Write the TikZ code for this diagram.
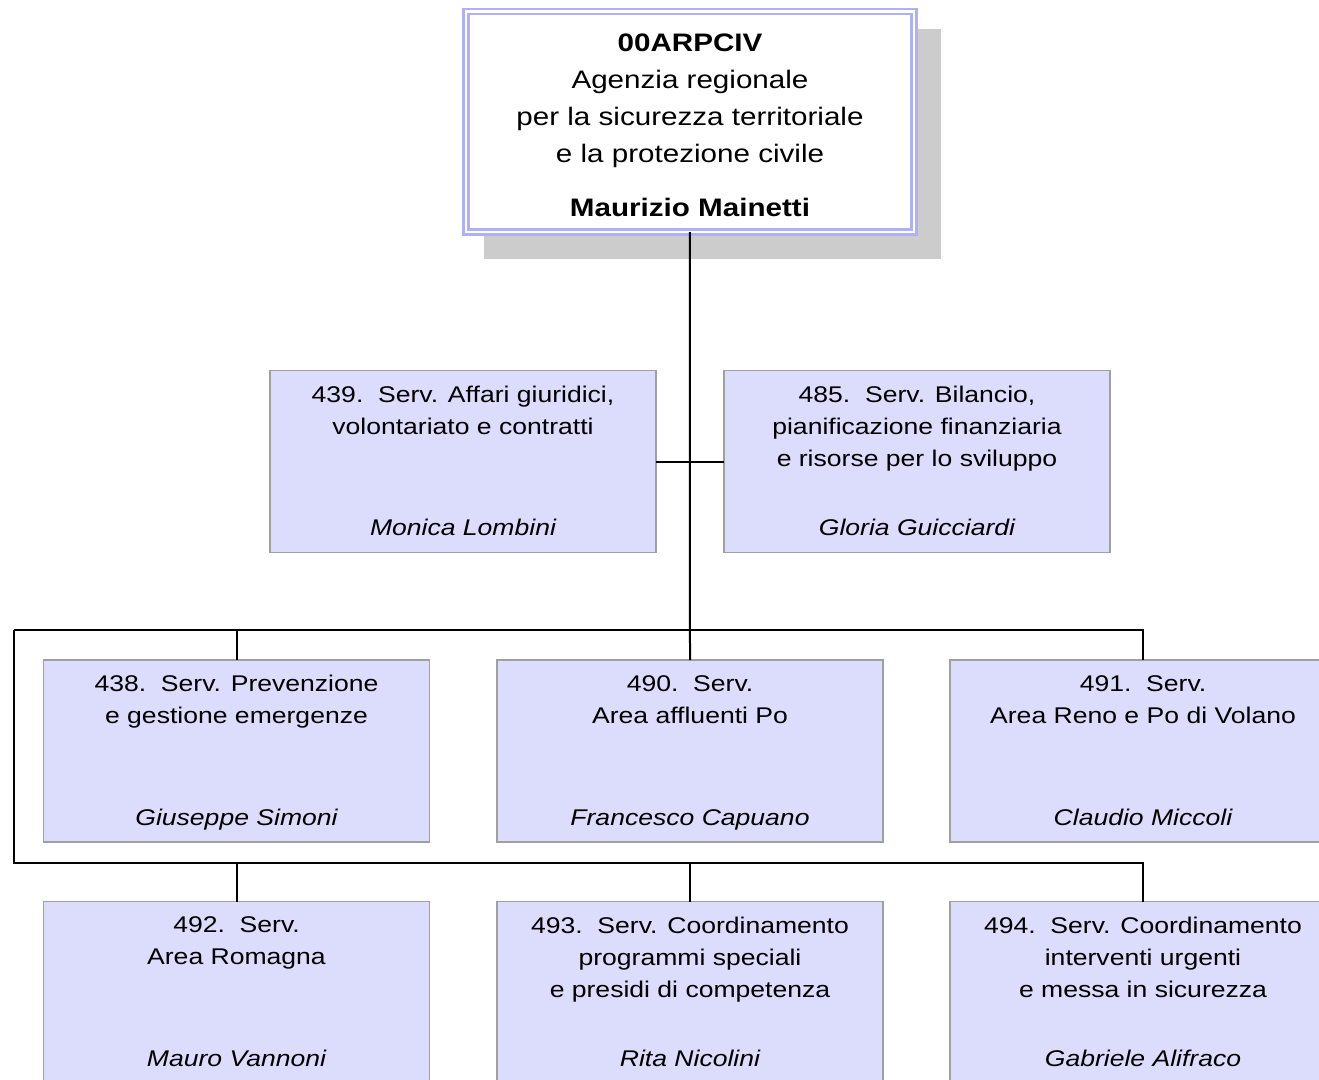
\documentclass[tikz,border=0pt]{standalone}
\usepackage{fontspec}
\setmainfont[FakeStretch=1.17]{Liberation Sans}
\usetikzlibrary{calc}
\definecolor{svcfill}{RGB}{220,220,252}
\definecolor{svcline}{RGB}{160,160,160}
\definecolor{topline}{RGB}{176,176,248}
\definecolor{shadowgray}{RGB}{204,204,204}
\tikzset{
  svcbox/.style={draw=svcline, fill=svcfill, line width=1.5pt, minimum width=386pt, minimum height=182pt, inner sep=0pt, outer sep=0pt},
  topbox/.style={draw=topline, double=white, line width=2.5pt, double distance=2.5pt, fill=white, minimum width=448pt, minimum height=220.3pt, inner sep=0pt, outer sep=0pt},
  svctitle/.style={anchor=north, align=center, inner sep=0pt, font=\fontsize{22.7}{32}\selectfont},
  svcname/.style={anchor=base, inner sep=0pt, font=\fontsize{22.7}{32}\selectfont\itshape},
  toptitle/.style={anchor=north, align=center, inner sep=0pt, font=\fontsize{25.3}{37}\selectfont},
  topname/.style={anchor=base, inner sep=0pt, font=\fontsize{25.3}{37}\selectfont\bfseries},
  conn/.style={draw=black, line width=2pt}
}
\begin{document}
\begin{tikzpicture}[x=1pt,y=-1pt]
\useasboundingbox (0,0) rectangle (1319,1079);
% top box with shadow
\fill[shadowgray] (484,29) rectangle (941,259.3);
\node[topbox] (top) at (689.75,121.85) {};
\node[toptitle] (toptxt) at (690,33.5) {{\bfseries 00ARPCIV}\\Agenzia regionale\\per la sicurezza territoriale\\e la protezione civile};
\node[topname] (topnm) at (690,216.5) {Maurizio Mainetti};

% service boxes
\node[svcbox] (s439) at (463,461.5) {};
\node[svcbox] (s485) at (917,461.5) {};
\node[svcbox] (c438) at (236.5,751) {};
\node[svcbox] (c490) at (690,751) {};
\node[svcbox] (c491) at (1143,751) {};
\node[svcbox] (c492) at (236.5,992.5) {};
\node[svcbox] (c493) at (690,992.5) {};
\node[svcbox] (c494) at (1143,992.5) {};

% connectors
\coordinate (busA) at (690,630);
\coordinate (busL) at (14,630);
\coordinate (busL2) at (14,862.5);
\draw[conn] (top.south) -- (c490.north);
\draw[conn] (s439.east) -- (s485.west);
\draw[conn] (busL) -- (c491.north |- busA) -- (c491.north);
\draw[conn] (c438.north |- busA) -- (c438.north);
\draw[conn] (busL) -- (busL2) -- (c494.north |- busL2) -- (c494.north);
\draw[conn] (c492.north |- busL2) -- (c492.north);
\draw[conn] (c493.north |- busL2) -- (c493.north);

% texts
\node[svctitle] (t439) at ($(s439.north)+(0,15)$) {439.\ \ Serv. Affari giuridici,\\volontariato e contratti};
\node[svcname] (n439) at ($(s439.south)+(0,-17)$) {Monica Lombini};
\node[svctitle] (t485) at ($(s485.north)+(0,15)$) {485.\ \ Serv. Bilancio,\\pianificazione finanziaria\\e risorse per lo sviluppo};
\node[svcname] (n485) at ($(s485.south)+(0,-17)$) {Gloria Guicciardi};
\node[svctitle] (t438) at ($(c438.north)+(0,15)$) {438.\ \ Serv. Prevenzione\\e gestione emergenze};
\node[svcname] (n438) at ($(c438.south)+(0,-17)$) {Giuseppe Simoni};
\node[svctitle] (t490) at ($(c490.north)+(0,15)$) {490.\ \ Serv.\\Area affluenti Po};
\node[svcname] (n490) at ($(c490.south)+(0,-17)$) {Francesco Capuano};
\node[svctitle] (t491) at ($(c491.north)+(0,15)$) {491.\ \ Serv.\\Area Reno e Po di Volano};
\node[svcname] (n491) at ($(c491.south)+(0,-17)$) {Claudio Miccoli};
\node[svctitle] (t492) at ($(c492.north)+(0,15)$) {492.\ \ Serv.\\Area Romagna};
\node[svcname] (n492) at ($(c492.south)+(0,-17)$) {Mauro Vannoni};
\node[svctitle] (t493) at ($(c493.north)+(0,15)$) {493.\ \ Serv. Coordinamento\\programmi speciali\\e presidi di competenza};
\node[svcname] (n493) at ($(c493.south)+(0,-17)$) {Rita Nicolini};
\node[svctitle] (t494) at ($(c494.north)+(0,15)$) {494.\ \ Serv. Coordinamento\\interventi urgenti\\e messa in sicurezza};
\node[svcname] (n494) at ($(c494.south)+(0,-17)$) {Gabriele Alifraco};
\end{tikzpicture}
\end{document}
